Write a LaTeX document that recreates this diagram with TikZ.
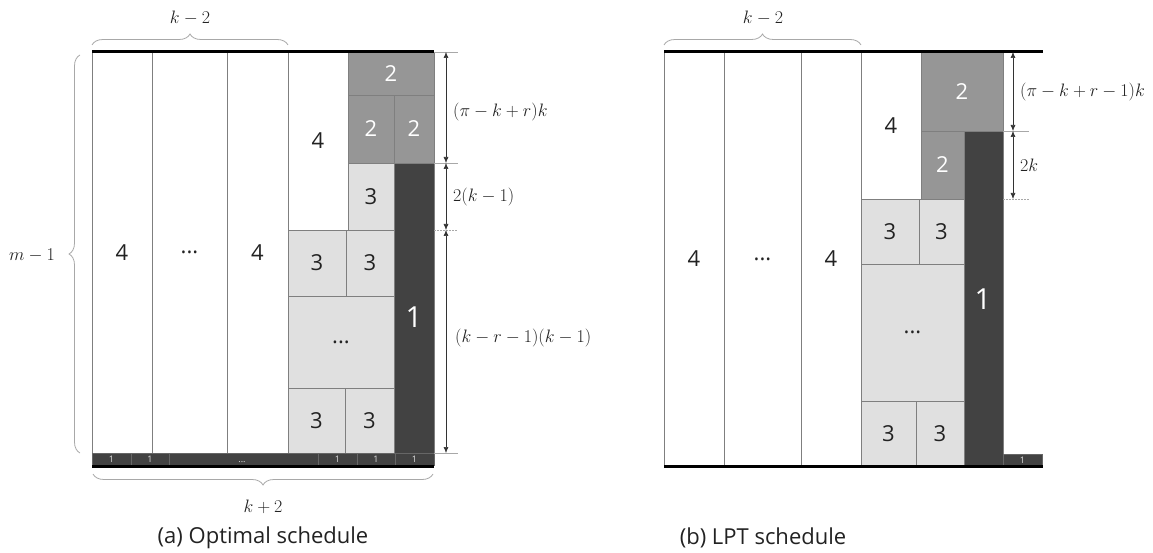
\RequirePackage{fix-cm}
\documentclass[tikz,border=0pt]{standalone}
\usepackage[no-math]{fontspec}
\setmainfont{Open Sans}
\usetikzlibrary{decorations.pathreplacing,arrows.meta}
\definecolor{dk}{HTML}{424242}
\definecolor{md}{HTML}{969696}
\definecolor{lt}{HTML}{E0E0E0}
\definecolor{bd}{HTML}{7F7F7F}
\definecolor{tx}{HTML}{222222}
\definecolor{br}{HTML}{A8A8A8}
\newcommand\mycell[7]{\node[#6, minimum width={(#4-#2)*1pt}, minimum height={(#5-#3)*1pt}] (#1) at ({(#2+#4)/2},{(#3+#5)/2}) {#7};}
\tikzset{
 cellbox/.style={draw=bd, line width=0.7pt, inner sep=0pt, outer sep=0pt, anchor=center},
 whitecol/.style={cellbox, fill=white, text=tx, font=\fontsize{22}{26}\selectfont},
 twobox/.style={cellbox, fill=md, text=white, font=\fontsize{22}{26}\selectfont},
 threebox/.style={cellbox, fill=lt, text=tx, font=\fontsize{22}{26}\selectfont},
 onebox/.style={cellbox, fill=dk, text=white},
 bigone/.style={text=white, font=\fontsize{29}{33}\selectfont, inner sep=0pt},
 smallone/.style={cellbox, draw=black!60, fill=dk, text=lt, font=\fontsize{9}{10}\selectfont},
 bar/.style={line width=3pt, black},
 dimarrow/.style={{Latex[length=6pt,width=5pt]}-{Latex[length=6pt,width=5pt]}, line width=0.6pt, black!80},
 ext/.style={line width=0.6pt, br},
 extdot/.style={ext, dash pattern=on 1.5pt off 1.5pt},
 bracedeco/.style={decorate, decoration={brace, amplitude=11pt}, line width=0.8pt, br},
 mathlbl/.style={font=\fontsize{18}{22}\selectfont, text=tx, inner sep=0pt},
 captionlbl/.style={font=\fontsize{22}{26}\selectfont, text=tx, inner sep=0pt}
}
\begin{document}
\begin{tikzpicture}[x=1pt,y=-1pt]
\useasboundingbox (0,0) rectangle (1153,553);
% ================= (a) =================
\mycell{a1}{92}{52}{152}{453}{whitecol}{4}
\mycell{a2}{152}{52}{227}{453}{whitecol}{...}
\mycell{a3}{227}{52}{288}{453}{whitecol}{4}
\mycell{a4}{288}{52}{348}{230}{whitecol}{4}
\mycell{a5}{348}{52}{434}{95}{twobox}{2}
\mycell{a6}{348}{95}{394}{163}{twobox}{2}
\mycell{a7}{394}{95}{434}{163}{twobox}{2}
\mycell{a8}{348}{163}{394}{230}{threebox}{3}
\mycell{a9}{394}{163}{434}{453}{onebox}{}
\node[bigone] (a9l) at (414,317) {1};
\mycell{a10}{288}{230}{346}{296}{threebox}{3}
\mycell{a11}{346}{230}{394}{296}{threebox}{3}
\mycell{a12}{288}{296}{394}{388}{threebox}{...}
\mycell{a13}{288}{388}{345}{453}{threebox}{3}
\mycell{a14}{345}{388}{394}{453}{threebox}{3}
% bottom row of 1s
\mycell{b1}{92}{453}{131}{465}{smallone}{1}
\mycell{b2}{131}{453}{169}{465}{smallone}{1}
\mycell{b3}{169}{453}{318}{465}{smallone}{}
\node[text=lt, font=\fontsize{9}{10}\selectfont, inner sep=0pt] (b3l) at (242,462) {...};
\mycell{b4}{318}{453}{357}{465}{smallone}{1}
\mycell{b5}{357}{453}{395}{465}{smallone}{1}
\mycell{b6}{395}{453}{434}{465}{smallone}{1}
\coordinate (atl) at (92,52); \coordinate (atr) at (434,52);
\coordinate (abl) at (92,466); \coordinate (abr) at (434,466);
\draw[bar] (atl) -- (atr);
\draw[bar] (abl) -- (abr);
% braces
\coordinate (ba1) at (92,45); \coordinate (ba2) at (288,45);
\draw[bracedeco] (ba1) -- (ba2);
\node[mathlbl] (lka) at (190,18) {$k-2$};
\coordinate (bl1) at (80,453); \coordinate (bl2) at (80,55);
\draw[bracedeco] (bl1) -- (bl2);
\node[mathlbl] (lm) at (32,255) {$m-1$};
\coordinate (bb1) at (433,474); \coordinate (bb2) at (93,474);
\draw[bracedeco] (bb1) -- (bb2);
\node[mathlbl] (lkp) at (263,507) {$k+2$};
% dimensions
\coordinate (e1a) at (434,52); \coordinate (e1b) at (458,52);
\coordinate (e2a) at (434,163); \coordinate (e2b) at (458,163);
\coordinate (e3a) at (434,230); \coordinate (e3b) at (458,230);
\coordinate (e4a) at (434,453); \coordinate (e4b) at (458,453);
\draw[ext] (e1a) -- (e1b);
\draw[ext] (e2a) -- (e2b);
\draw[extdot] (e3a) -- (e3b);
\draw[ext] (e4a) -- (e4b);
\coordinate (d1) at (446,52); \coordinate (d2) at (446,163);
\coordinate (d3) at (446,230); \coordinate (d4) at (446,453);
\draw[dimarrow] (d1) -- (d2);
\draw[dimarrow] (d2) -- (d3);
\draw[dimarrow] (d3) -- (d4);
\node[mathlbl, anchor=west] (m1) at (453,112) {$(\pi-k+r)k$};
\node[mathlbl, anchor=west] (m2) at (453,197) {$2(k-1)$};
\node[mathlbl, anchor=west] (m3) at (455,338) {$(k-r-1)(k-1)$};
\node[captionlbl] (capa) at (263,538) {(a) Optimal schedule};
% ================= (b) =================
\mycell{c1}{664}{52}{724}{466}{whitecol}{4}
\mycell{c2}{724}{52}{801}{466}{whitecol}{...}
\mycell{c3}{801}{52}{861}{466}{whitecol}{4}
\mycell{c4}{861}{52}{921}{199}{whitecol}{4}
\mycell{c5}{921}{52}{1003}{131}{twobox}{2}
\mycell{c6}{921}{131}{964}{199}{twobox}{2}
\mycell{c7}{964}{131}{1003}{466}{onebox}{}
\node[bigone] (c7l) at (983,299) {1};
\mycell{c8}{861}{199}{919}{264}{threebox}{3}
\mycell{c9}{919}{199}{964}{264}{threebox}{3}
\mycell{c10}{861}{264}{964}{401}{threebox}{...}
\mycell{c11}{861}{401}{916}{466}{threebox}{3}
\mycell{c12}{916}{401}{964}{466}{threebox}{3}
\mycell{c13}{1003}{454}{1042}{466}{smallone}{1}
\coordinate (btl) at (664,52); \coordinate (btr) at (1043,52);
\coordinate (bbl) at (664,466); \coordinate (bbr) at (1043,466);
\draw[bar] (btl) -- (btr);
\draw[bar] (bbl) -- (bbr);
\coordinate (bc1) at (664,45); \coordinate (bc2) at (861,45);
\draw[bracedeco] (bc1) -- (bc2);
\node[mathlbl] (lkb) at (763,18) {$k-2$};
\coordinate (f2a) at (1003,131); \coordinate (f2b) at (1029,131);
\coordinate (f3a) at (1003,199); \coordinate (f3b) at (1029,199);
\draw[ext] (f2a) -- (f2b);
\draw[extdot] (f3a) -- (f3b);
\coordinate (g1) at (1013,52); \coordinate (g2) at (1013,131); \coordinate (g3) at (1013,199);
\draw[dimarrow] (g1) -- (g2);
\draw[dimarrow] (g2) -- (g3);
\node[mathlbl, anchor=west] (n1) at (1020,92) {$(\pi-k+r-1)k$};
\node[mathlbl, anchor=west] (n2) at (1020,165) {$2k$};
\node[captionlbl] (capb) at (763,538) {(b) LPT schedule};
\end{tikzpicture}
\end{document}
